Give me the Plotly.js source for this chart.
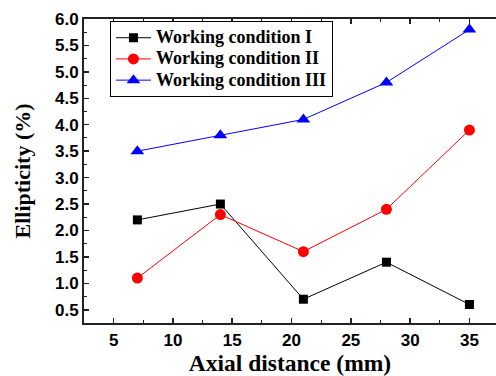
<!DOCTYPE html>
<html><head><meta charset="utf-8">
<script src="https://cdn.plot.ly/plotly-3.0.1.min.js"></script>
<style>body{margin:0;padding:0;background:#fff}#c{width:496px;height:376px}</style>
</head><body><div id="c"></div>
<script>
const xVals = [7, 14, 21, 28, 35];
const seriesNames = ["Working condition I", "Working condition II", "Working condition III"];
const cond1 = [2.2, 2.5, 0.7, 1.4, 0.6];
const cond2 = [1.1, 2.3, 1.6, 2.4, 3.9];
const cond3 = [3.5, 3.8, 4.1, 4.8, 5.8];
const xTickVals = [5, 10, 15, 20, 25, 30, 35];
const yTickVals = [0.5, 1.0, 1.5, 2.0, 2.5, 3.0, 3.5, 4.0, 4.5, 5.0, 5.5, 6.0];

const legName = s => '<span style="font-size:18px">' + s + '</span>';

const traces = [
  {x: xVals, y: cond1, name: legName(seriesNames[0]), mode: 'lines+markers',
   line: {color: '#000', width: 1}, marker: {symbol: 'square', size: 9, color: '#000'}},
  {x: xVals, y: cond2, name: legName(seriesNames[1]), mode: 'lines+markers',
   line: {color: '#ff0000', width: 1}, marker: {symbol: 'circle', size: 11, color: '#ff0000'}},
  {x: xVals, y: cond3, name: legName(seriesNames[2]), mode: 'lines+markers',
   line: {color: '#0000ff', width: 1}, marker: {symbol: 'triangle-up', size: 12, color: '#0000ff'}}
];

const tickFont = {family: 'Liberation Sans, Arial', size: 17, color: '#000', weight: 700};

const layout = {
  width: 496, height: 376,
  margin: {l: 84, r: 0, t: 19, b: 53},
  paper_bgcolor: '#fff', plot_bgcolor: '#fff',
  showlegend: true,
  legend: {x: 0.063, y: 0.993, xanchor: 'left', yanchor: 'top',
    bordercolor: '#000', borderwidth: 1, bgcolor: '#fff',
    font: {family: 'Liberation Serif', size: 14, color: '#000', weight: 700},
    tracegroupgap: 0, itemwidth: 35},
  xaxis: {range: [2.5, 37.24], tickvals: xTickVals, ticktext: xTickVals.map(v => '<b>' + v + '</b>'),
    ticks: 'inside', ticklen: 5, tickwidth: 1.5,
    tickcolor: '#222', showline: true, linecolor: '#222', linewidth: 2, mirror: 'ticks',
    showgrid: false, zeroline: false, ticklabelstandoff: 1,
    minor: {dtick: 2.5, tick0: 2.5, ticks: 'inside', ticklen: 3, tickcolor: '#222', tickwidth: 1},
    tickfont: tickFont,
    title: {text: 'Axial distance (mm)', standoff: 6,
      font: {family: 'Liberation Serif', size: 23.5, color: '#000', weight: 700}}},
  yaxis: {range: [0.25, 6.0], tickvals: yTickVals, ticktext: yTickVals.map(v => '<b>' + v.toFixed(1) + '</b>'),
    ticks: 'inside', ticklen: 5, tickwidth: 1.5, tickcolor: '#222',
    showline: true, linecolor: '#222', linewidth: 2, showgrid: false, zeroline: false,
    minor: {dtick: 0.25, tick0: 0.25, ticks: 'inside', ticklen: 3, tickcolor: '#222', tickwidth: 1},
    tickfont: tickFont,
    title: {text: 'Ellipticity (%)', standoff: 18,
      font: {family: 'Liberation Serif', size: 22, color: '#000', weight: 700}}}
};
Plotly.newPlot('c', traces, layout, {displayModeBar: false, staticPlot: true});
</script></body></html>
